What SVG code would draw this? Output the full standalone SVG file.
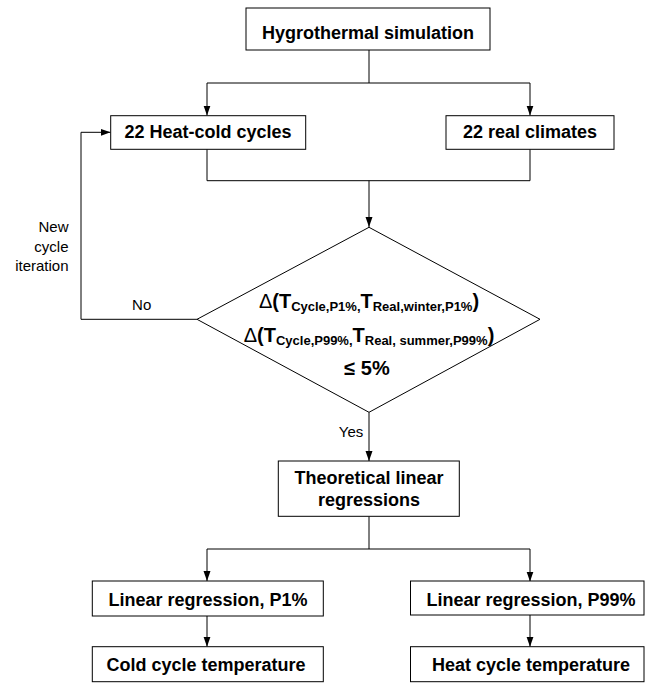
<svg xmlns="http://www.w3.org/2000/svg" width="645" height="684" viewBox="0 0 645 684">
<style>
.box{fill:#fff;stroke:#000;stroke-width:1}
.t{font-family:"Liberation Sans",Arial,sans-serif;font-weight:bold;font-size:18px;fill:#000;text-anchor:middle}
.lab{font-family:"Liberation Sans",Arial,sans-serif;font-size:15px;fill:#000}
.dt{font-family:"Liberation Sans",Arial,sans-serif;font-weight:bold;font-size:20px;fill:#000;text-anchor:middle}
.sub{font-size:13px}
.dl{font-weight:normal}
.c{fill:none;stroke:#000;stroke-width:1}
</style>
<defs>
<marker id="ah" markerWidth="10" markerHeight="8" refX="10" refY="4" orient="auto" markerUnits="userSpaceOnUse"><path d="M0,0.5 L10,4 L0,7.5 z" fill="#000"/></marker>
</defs>
<g id="connectors">
<path class="c" d="M369,50 V83 H207 V115.5" marker-end="url(#ah)"/>
<path class="c" d="M369,83 H530 V115.5" marker-end="url(#ah)"/>
<path class="c" d="M207,149.3 V180.7 H369 V227" marker-end="url(#ah)"/>
<path class="c" d="M530,149.3 V180.7 H369"/>
<path class="c" d="M197,319.3 H81 V132.3 H110.5" marker-end="url(#ah)"/>
<path class="c" d="M369,412.3 V461" marker-end="url(#ah)"/>
<path class="c" d="M369,516.3 V549 H207 V581" marker-end="url(#ah)"/>
<path class="c" d="M369,549 H530 V581.5" marker-end="url(#ah)"/>
<path class="c" d="M207,616 V646.7" marker-end="url(#ah)"/>
<path class="c" d="M530,615 V646.7" marker-end="url(#ah)"/>
<text class="lab" x="141.7" y="310" text-anchor="middle">No</text>
<text class="lab" x="351" y="437" text-anchor="middle">Yes</text>
<text class="lab" text-anchor="end"><tspan x="68.5" y="232">New</tspan><tspan x="68.5" y="251.5">cycle</tspan><tspan x="68.5" y="271">iteration</tspan></text>
</g>
<g id="hygro">
<rect class="box" x="246" y="8" width="244" height="42"/>
<text class="t" x="368" y="39">Hygrothermal simulation</text>
</g>
<g id="heatcold">
<rect class="box" x="110.7" y="115.7" width="195" height="33.6"/>
<text class="t" x="208" y="138.3">22 Heat-cold cycles</text>
</g>
<g id="realclim">
<rect class="box" x="446" y="115.7" width="168" height="33.6"/>
<text class="t" x="530" y="138.3">22 real climates</text>
</g>
<g id="decision">
<polygon class="box" points="369,227.3 540,319.3 369,412.3 197,319.3"/>
<text class="dt" x="369" y="308"><tspan class="dl">Δ</tspan>(T<tspan class="sub" dy="3">Cycle,P1%,</tspan><tspan dy="-3">T</tspan><tspan class="sub" dy="3">Real,winter,P1%</tspan><tspan dy="-3">)</tspan></text>
<text class="dt" x="369" y="342"><tspan class="dl">Δ</tspan>(T<tspan class="sub" dy="3">Cycle,P99%,</tspan><tspan dy="-3">T</tspan><tspan class="sub" dy="3">Real, summer,P99%</tspan><tspan dy="-3">)</tspan></text>
<text class="dt" x="367" y="375">≤ 5%</text>
</g>
<g id="theoretical">
<rect class="box" x="278.3" y="461" width="181" height="55.3"/>
<text class="t" x="369" y="484.3">Theoretical linear</text>
<text class="t" x="369" y="506">regressions</text>
</g>
<g id="lr1">
<rect class="box" x="92.3" y="581" width="231" height="35"/>
<text class="t" x="208" y="606">Linear regression, P1%</text>
</g>
<g id="lr99">
<rect class="box" x="410.5" y="581" width="233.5" height="34"/>
<text class="t" x="531" y="606">Linear regression, P99%</text>
</g>
<g id="cold">
<rect class="box" x="92.3" y="646.7" width="231" height="35"/>
<text class="t" x="206" y="671">Cold cycle temperature</text>
</g>
<g id="heat">
<rect class="box" x="410.5" y="646.7" width="233.5" height="35"/>
<text class="t" x="531" y="671">Heat cycle temperature</text>
</g>
</svg>
